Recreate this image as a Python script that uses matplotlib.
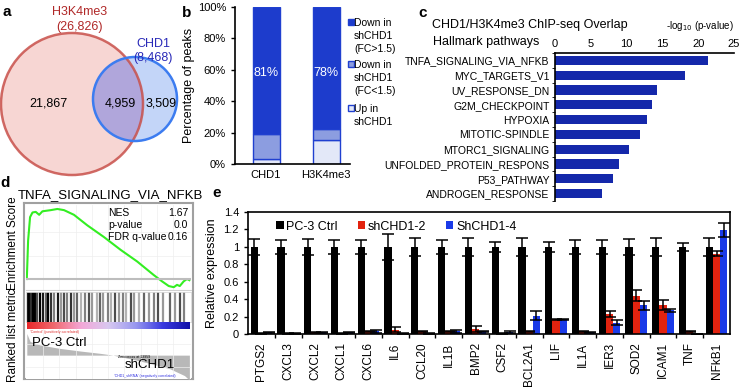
import numpy as np
import matplotlib.pyplot as plt
from matplotlib.patches import Circle, Rectangle
from matplotlib.colors import LinearSegmentedColormap

plt.rcParams['font.family'] = ['Liberation Sans', 'DejaVu Sans']

W, H = 741, 390

# ---- data ----
# a: venn
venn_names = ['H3K4me3', 'CHD1']
venn_totals = ['(26,826)', '(8,468)']
venn_counts = ['21,867', '4,959', '3,509']

# b: stacked bars
b_groups = ['CHD1', 'H3K4me3']
b_up = [3, 15]
b_down_weak = [16, 7]
b_down_strong = [81, 78]
b_labels = ['Down in\nshCHD1\n(FC>1.5)', 'Down in\nshCHD1\n(FC<1.5)', 'Up in\nshCHD1']

# c: hallmark pathways
pathways = ['TNFA_SIGNALING_VIA_NFKB', 'MYC_TARGETS_V1', 'UV_RESPONSE_DN',
            'G2M_CHECKPOINT', 'HYPOXIA', 'MITOTIC-SPINDLE', 'MTORC1_SIGNALING',
            'UNFOLDED_PROTEIN_RESPONS', 'P53_PATHWAY', 'ANDROGEN_RESPONSE']
pathway_logp = [21.3, 18.1, 14.3, 13.5, 12.9, 11.9, 10.4, 8.9, 8.1, 6.5]

# d: GSEA
es_rank = [0, 0.8, 2, 3.5, 5.5, 7.6, 9.6, 14.7, 18.8, 22.9, 29, 37.2, 47.4,
           57.7, 67.9, 78.1, 83.2, 87.3, 90.4, 92.4, 94.1, 96.5, 98.5, 100]
es_score = [0, 0.33, 0.53, 0.57, 0.575, 0.55, 0.58, 0.59, 0.60, 0.59, 0.55, 0.46,
            0.36, 0.25, 0.15, 0.034, -0.02, -0.06, -0.07, -0.05, -0.06, -0.02, 0.0, -0.01]
hit_rank = [0.5, 1.5, 2.5, 3.5, 5, 6.5, 8, 10, 11.5, 13, 15, 17, 19, 21, 23, 25,
            27, 29, 31, 33.5, 36, 38, 40, 43, 45, 47, 50, 52, 54.5, 57, 59, 61,
            64, 66, 69, 72, 75, 78, 81, 84, 88, 91, 94, 97]
hit_gray = [0.1, 0.0, 0.2, 0.0, 0.0, 0.3, 0.0, 0.1, 0.4, 0.0, 0.2, 0.5, 0.1, 0.6,
            0.3, 0.5, 0.2, 0.6, 0.4, 0.7, 0.5, 0.3, 0.6, 0.7, 0.4, 0.6, 0.5, 0.7,
            0.3, 0.6, 0.5, 0.7, 0.3, 0.6, 0.7, 0.4, 0.6, 0.5, 0.3, 0.6, 0.4, 0.6, 0.3, 0.5]
metric_rank = [0, 2, 8, 20, 33, 45, 53, 63, 75, 88, 97, 100]
metric_value = [0.95, 0.6, 0.45, 0.3, 0.18, 0.08, 0.0, -0.15, -0.35, -0.6, -0.9, -1.1]

# e: qPCR
genes = ['PTGS2', 'CXCL3', 'CXCL2', 'CXCL1', 'CXCL6', 'IL6', 'CCL20', 'IL1B', 'BMP2',
         'CSF2', 'BCL2A1', 'LIF', 'IL1A', 'IER3', 'SOD2', 'ICAM1', 'TNF', 'NFkB1']
series = ['PC-3 Ctrl', 'shCHD1-2', 'ShCHD1-4']
ctrl = [1.0] * 18
ctrl_err = [0.09, 0.08, 0.09, 0.08, 0.08, 0.15, 0.1, 0.08, 0.1,
            0.06, 0.1, 0.06, 0.08, 0.08, 0.09, 0.1, 0.05, 0.1]
sh2 = [0.01, 0.01, 0.02, 0.01, 0.03, 0.05, 0.03, 0.03, 0.06,
       0.01, 0.03, 0.17, 0.03, 0.23, 0.44, 0.33, 0.03, 0.92]
sh2_err = [0.005, 0.005, 0.005, 0.005, 0.01, 0.03, 0.01, 0.01, 0.035,
           0.005, 0.005, 0.005, 0.01, 0.03, 0.06, 0.06, 0.005, 0.03]
sh4 = [0.02, 0.005, 0.02, 0.02, 0.03, 0.005, 0.005, 0.03, 0.03,
       0.02, 0.21, 0.17, 0.02, 0.13, 0.33, 0.27, 0.0, 1.19]
sh4_err = [0.005, 0.005, 0.005, 0.005, 0.02, 0.003, 0.003, 0.02, 0.01,
           0.01, 0.05, 0.005, 0.005, 0.03, 0.05, 0.02, 0.0, 0.08]

fig = plt.figure(figsize=(W / 100, H / 100), dpi=100)


def px_axes(x0, y0, x1, y1):
    return fig.add_axes([x0 / W, 1 - y1 / H, (x1 - x0) / W, (y1 - y0) / H])


# ---- a ----
axa = px_axes(0, 0, 190, 185)
axa.set_xlim(0, 190)
axa.set_ylim(185, 0)
axa.set_aspect('equal')
axa.axis('off')
red_fill = Circle((72, 104), 71, fc='#f7d6d3', ec='none')
axa.add_patch(red_fill)
axa.add_patch(Circle((135, 99), 42, fc='#c3d5f8', ec='none'))
ov_patch = Circle((135, 99), 42, fc='#b0a6db', ec='none')
axa.add_patch(ov_patch)
ov_patch.set_clip_path(red_fill)
axa.add_patch(Circle((72, 104), 71, fc='none', ec='#c8504a', lw=1.8, alpha=0.85))
axa.add_patch(Circle((135, 99), 42, fc='none', ec='#3c7cf0', lw=1.8))
for xx, s in zip([48, 120, 161], venn_counts):
    axa.text(xx, 104, s, ha='center', va='center', fontsize=9)
axa.text(80, 12, venn_names[0], ha='center', va='center', fontsize=9, color='#b02828')
axa.text(80, 27, venn_totals[0], ha='center', va='center', fontsize=9, color='#b02828')
axa.text(153, 44, venn_names[1], ha='center', va='center', fontsize=9, color='#2a2ab8')
axa.text(153, 58, venn_totals[1], ha='center', va='center', fontsize=9, color='#2a2ab8')

# ---- b ----
b_colors = ['#1d3ccc', '#8c9de0', '#e3e8f8']
axb = px_axes(235, 7, 350, 164)
xb = np.arange(len(b_groups))
bottom_mid = np.array(b_up)
bottom_top = bottom_mid + np.array(b_down_weak)
axb.bar(xb, b_up, width=0.45, color=b_colors[2], edgecolor='#2040d0', lw=1)
axb.bar(xb, b_down_weak, bottom=bottom_mid, width=0.45, color=b_colors[1], edgecolor='#2040d0', lw=1)
axb.bar(xb, b_down_strong, bottom=bottom_top, width=0.45, color=b_colors[0], edgecolor='#2040d0', lw=1)
for i, v in enumerate(b_down_strong):
    axb.text(xb[i], 58, f'{v}%', ha='center', va='center', color='white', fontsize=9)
axb.set_xlim(-0.517, 1.4)
axb.set_ylim(0, 100)
axb.set_yticks(range(0, 101, 20))
axb.set_yticklabels([f'{v}%' for v in range(0, 101, 20)], fontsize=8)
axb.set_xticks(xb)
axb.set_xticklabels(b_groups, fontsize=8)
axb.tick_params(axis='x', length=0, pad=4)
axb.tick_params(axis='y', length=3, width=1)
axb.spines['top'].set_visible(False)
axb.spines['right'].set_visible(False)
axb.spines['left'].set_linewidth(1.2)
axb.spines['bottom'].set_linewidth(1.2)
axb.set_ylabel('Percentage of peaks', fontsize=9, labelpad=2)

# ---- c ----
axc = px_axes(555, 53, 734, 201)
yc = np.arange(len(pathways))
axc.barh(yc, pathway_logp, height=0.62, color='#1428aa')
axc.set_ylim(len(pathways) - 0.5, -0.5)
axc.set_xlim(0, 25)
axc.xaxis.tick_top()
axc.set_xticks(range(0, 26, 5))
axc.tick_params(axis='x', labelsize=8, length=0, pad=3)
axc.set_yticks(yc)
axc.set_yticklabels(pathways, fontsize=7.5)
axc.tick_params(axis='y', length=0, pad=4)
axc.set_yticks(np.arange(-0.5, len(pathways), 1), minor=True)
axc.tick_params(axis='y', which='minor', length=2.5)
axc.spines['right'].set_visible(False)
axc.spines['bottom'].set_visible(False)
axc.spines['top'].set_linewidth(1.2)
axc.spines['left'].set_linewidth(1.2)

# ---- d ----
frame = px_axes(24, 203, 193, 379)
frame.set_xticks([])
frame.set_yticks([])
for sp in frame.spines.values():
    sp.set_color('#a0a0a0')
    sp.set_linewidth(1.5)

axd1 = px_axes(26, 205, 191, 290)
axd1.plot(es_rank, es_score, color='#33ee22', lw=1.5)
axd1.axhline(0, color='#bdbdbd', lw=1.5)
axd1.set_xlim(-0.5, 101)
axd1.set_ylim(-0.094, 0.634)
axd1.set_xticks(np.arange(10, 100, 10))
axd1.set_yticks([0.2, 0.4])
axd1.grid(color='#eeeeee', lw=0.5)
axd1.tick_params(length=0, labelbottom=False, labelleft=False)
for k in ['top', 'left', 'right']:
    axd1.spines[k].set_visible(False)
axd1.spines['bottom'].set_color('#d0d0d0')

axd2 = px_axes(26, 292, 191, 322)
axd2.vlines(hit_rank, 0, 1, colors=[str(g) for g in hit_gray], lw=1.6)
axd2.set_xlim(-0.5, 101)
axd2.set_ylim(0, 1)
axd2.set_xticks([])
axd2.set_yticks([])
for sp in axd2.spines.values():
    sp.set_color('#d8d8d8')
    sp.set_linewidth(0.6)

axd3 = px_axes(26, 322, 191, 329)
cmap = LinearSegmentedColormap.from_list(
    'gsea', ['#e8282a', '#f06a70', '#f4a8d8', '#d8c8f0', '#9898f0', '#3a3ae0', '#1010a8'])
axd3.imshow(np.linspace(0, 1, 256)[None, :], aspect='auto', cmap=cmap, extent=(0, 100, 0, 1))
axd3.set_xlim(-0.5, 101)
axd3.axis('off')

axd4 = px_axes(26, 329, 191, 379)
axd4.fill_between(metric_rank, metric_value, 0, color='#b8b8b8', lw=0)
axd4.set_xlim(-0.5, 101)
axd4.set_ylim(-1.05, 1.15)
axd4.set_xticks(np.arange(10, 100, 10))
axd4.set_yticks([-0.5, 0.5])
axd4.grid(color='#eeeeee', lw=0.5)
axd4.tick_params(length=0, labelbottom=False, labelleft=False)
for sp in axd4.spines.values():
    sp.set_visible(False)

# ---- e ----
axe = px_axes(248, 212, 730, 334)
xe = np.arange(len(genes))
bw = 0.27
b1 = axe.bar(xe - bw, ctrl, width=bw, color='black')
b2 = axe.bar(xe, sh2, width=bw, color='#e2230f')
b3 = axe.bar(xe + bw, sh4, width=bw, color='#1a3ae8')
for off, v, e in [(-bw, ctrl, ctrl_err), (0, sh2, sh2_err), (bw, sh4, sh4_err)]:
    axe.errorbar(xe + off, v, yerr=e, fmt='none', ecolor='black',
                 elinewidth=1.1, capsize=4.5, capthick=1.1)
axe.set_xlim(-0.5, len(genes) - 0.5)
axe.set_ylim(0, 1.4)
axe.set_yticks(np.arange(0, 1.41, 0.2))
axe.set_yticklabels(['0', '0.2', '0.4', '0.6', '0.8', '1', '1.2', '1.4'], fontsize=8)
axe.set_xticks(np.arange(0.5, len(genes) - 1, 1))
axe.set_xticklabels([])
axe.tick_params(axis='x', length=3, width=1)
axe.set_xticks(xe, minor=True)
axe.set_xticklabels(genes, minor=True, rotation=90, fontsize=8.5)
axe.tick_params(axis='x', which='minor', length=0, pad=6)
axe.tick_params(axis='y', length=3, width=1)
for sp in axe.spines.values():
    sp.set_linewidth(1.2)
axe.set_ylabel('Relative expression', fontsize=9, labelpad=4)
axe.legend([b1, b2, b3], series, loc='upper left', bbox_to_anchor=(0.035, 1.02), ncol=3,
           frameon=False, fontsize=9, handlelength=0.6, handleheight=0.6,
           handletextpad=0.2, columnspacing=1.6)

# ---- overlay texts ----
ov = fig.add_axes([0, 0, 1, 1])
ov.set_xlim(0, W)
ov.set_ylim(H, 0)
ov.axis('off')
for s, xx, yy in [('a', 7, 12), ('b', 187, 13), ('c', 423, 13), ('d', 5, 183), ('e', 217, 193)]:
    ov.text(xx, yy, s, fontsize=11, fontweight='bold', ha='center', va='center')

# b legend
leg_y = [22, 64, 108]
leg_cols = b_colors
for yy, lab, col in zip(leg_y, b_labels, leg_cols):
    ov.add_patch(Rectangle((348, yy - 3), 5.5, 5.5, fc=col, ec='#2040d0', lw=1))
    ov.text(354, yy - 4, lab, fontsize=7.5, ha='left', va='top', linespacing=1.35)

# c titles
ov.text(530, 25, 'CHD1/H3K4me3 ChIP-seq Overlap', fontsize=9, ha='center', va='center')
ov.text(539, 42, 'Hallmark pathways', fontsize=9, ha='right', va='center')
ov.text(700, 26, '-log$_{10}$ (p-value)', fontsize=7, ha='center', va='center')

# d texts
ov.text(110, 195, 'TNFA_SIGNALING_VIA_NFKB', fontsize=9.5, ha='center', va='center')
ov.text(13, 243, 'Enrichment Score', fontsize=8.5, rotation=90, ha='center', va='center')
ov.text(13, 335, 'Ranked list metric', fontsize=8.5, rotation=90, ha='center', va='center')
for yy, lab, val in [(213, 'NES', '1.67'), (225, 'p-value', '0.0'), (237, 'FDR q-value', '0.16')]:
    ov.text(108, yy, lab, fontsize=7.5, ha='left', va='center')
    ov.text(188, yy, val, fontsize=7.5, ha='right', va='center')
ov.text(30, 331.5, "'Control' (positively correlated)", fontsize=2.6, color='#e03030', ha='left', va='center')
ov.text(32, 343, 'PC-3 Ctrl', fontsize=9.5, ha='left', va='center')
ov.text(118, 357, 'Zero cross at 13959', fontsize=2.6, ha='left', va='center')
ov.text(125, 365, 'shCHD1', fontsize=9.5, ha='left', va='center')
ov.text(114, 376, "'CHD1_shRNA' (negatively correlated)", fontsize=2.6, color='#3030e0', ha='left', va='center')

fig.savefig('out.png', dpi=100)
